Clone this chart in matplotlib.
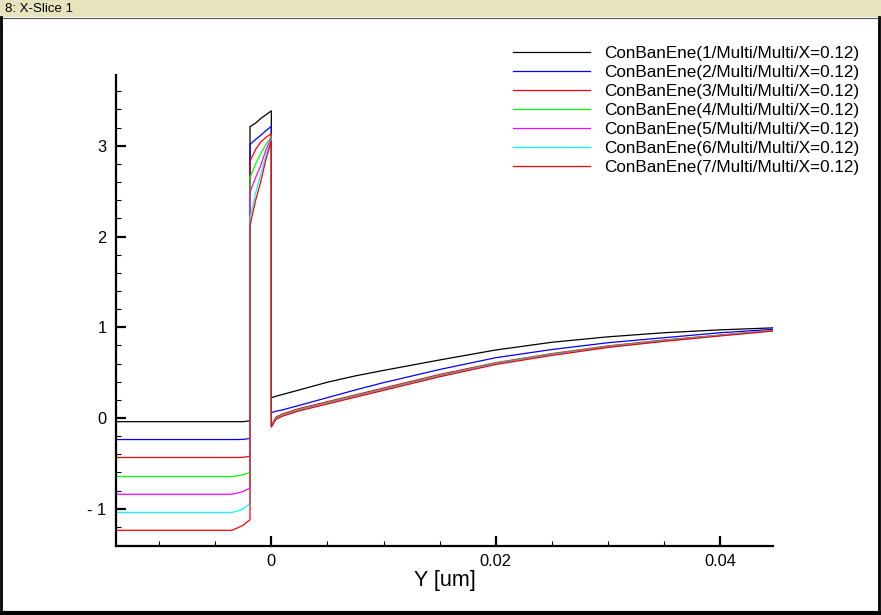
import matplotlib
matplotlib.use("Agg")

import matplotlib.pyplot as plt
from matplotlib.patches import Rectangle
from matplotlib.lines import Line2D
from matplotlib.ticker import MultipleLocator, FixedLocator, FixedFormatter

# substrate / oxide / silicon x positions (um)
x_sub = [-0.014, -0.0035, -0.003, -0.0025, -0.0019]
x_ox = [-0.0019, -0.0014, -0.00095, -0.0005, 0.0]
x_si = [0.0, 0.0004, 0.001, 0.0025, 0.005, 0.0075, 0.01, 0.015, 0.02,
        0.025, 0.03, 0.035, 0.04, 0.045]

names = ["ConBanEne(%d/Multi/Multi/X=0.12)" % i for i in range(1, 8)]
colors = ["black", "blue", "red", "#00ff00", "magenta", "cyan", "red"]

sub_1 = [-0.04, -0.04, -0.04, -0.04, -0.03]
sub_2 = [-0.237, -0.237, -0.237, -0.235, -0.225]
sub_3 = [-0.435, -0.435, -0.435, -0.433, -0.42]
sub_4 = [-0.644, -0.644, -0.635, -0.625, -0.60]
sub_5 = [-0.84, -0.84, -0.825, -0.81, -0.77]
sub_6 = [-1.04, -1.04, -1.025, -1.0, -0.94]
sub_7 = [-1.237, -1.237, -1.21, -1.18, -1.12]

ox_1 = [3.21, 3.25, 3.30, 3.34, 3.385]
ox_2 = [3.015, 3.07, 3.115, 3.165, 3.215]
ox_3 = [2.83, 2.96, 3.04, 3.09, 3.135]
ox_4 = [2.65, 2.80, 2.91, 3.01, 3.10]
ox_5 = [2.49, 2.65, 2.78, 2.95, 3.09]
ox_6 = [2.20, 2.48, 2.68, 2.89, 3.07]
ox_7 = [2.12, 2.40, 2.60, 2.84, 3.06]

si_1 = [0.224, 0.24, 0.26, 0.31, 0.395, 0.465, 0.525, 0.64, 0.75, 0.835, 0.895, 0.94, 0.972, 0.995]
si_2 = [0.06, 0.075, 0.09, 0.14, 0.225, 0.31, 0.39, 0.535, 0.665, 0.755, 0.83, 0.885, 0.94, 0.98]
si_3 = [-0.08, 0.01, 0.045, 0.105, 0.18, 0.255, 0.33, 0.48, 0.61, 0.71, 0.795, 0.86, 0.915, 0.97]
si_4 = [-0.085, 0.0, 0.035, 0.095, 0.17, 0.245, 0.32, 0.47, 0.605, 0.705, 0.79, 0.855, 0.912, 0.967]
si_5 = [-0.09, -0.005, 0.03, 0.09, 0.165, 0.24, 0.315, 0.465, 0.60, 0.70, 0.785, 0.85, 0.91, 0.965]
si_6 = [-0.095, -0.01, 0.025, 0.085, 0.16, 0.235, 0.31, 0.46, 0.595, 0.695, 0.78, 0.848, 0.908, 0.965]
si_7 = [-0.10, -0.015, 0.02, 0.08, 0.155, 0.23, 0.305, 0.455, 0.59, 0.69, 0.778, 0.845, 0.905, 0.962]

subs = [sub_1, sub_2, sub_3, sub_4, sub_5, sub_6, sub_7]
oxs = [ox_1, ox_2, ox_3, ox_4, ox_5, ox_6, ox_7]
sis = [si_1, si_2, si_3, si_4, si_5, si_6, si_7]

y_ticks = [-1, 0, 1, 2, 3]
y_ticklabels = ["- 1", "0", "1", "2", "3"]
x_ticks = [0, 0.02, 0.04]
x_ticklabels = ["0", "0.02", "0.04"]

plt.rcParams["font.family"] = ["Liberation Sans", "DejaVu Sans"]

W, H = 881, 615
fig = plt.figure(figsize=(W / 100, H / 100), dpi=100)
fig.patch.set_facecolor("white")

# window frame and title bar
fig.patches.append(Rectangle((0, 1 - 17 / H), 1, 17 / H, transform=fig.transFigure,
                             facecolor="#e6e4bc", edgecolor="none", zorder=0))
fig.add_artist(Line2D([0, 1], [1 - 17.5 / H, 1 - 17.5 / H], transform=fig.transFigure,
                      color="#555555", lw=0.8))
fig.add_artist(Line2D([1 / W, 1 / W], [0, 1 - 17 / H], transform=fig.transFigure,
                      color="black", lw=2))
fig.add_artist(Line2D([879 / W, 879 / W], [0, 1 - 17 / H], transform=fig.transFigure,
                      color="black", lw=2))
fig.add_artist(Line2D([0, 1], [2 / H, 2 / H], transform=fig.transFigure,
                      color="black", lw=3))
fig.text(5 / W, 1 - 9 / H, "8: X-Slice 1", fontsize=9.5, va="center", ha="left")

ax = fig.add_axes([116 / W, 1 - 546 / H, (773 - 116) / W, (546 - 75) / H])

for i in range(7):
    xs = x_sub + x_ox + x_si
    ys = subs[i] + oxs[i] + sis[i]
    ax.plot(xs, ys, color=colors[i], lw=0.9, label=names[i])

ax.set_xlim(-0.01384, 0.0447)
ax.set_ylim(-1.41, 3.78)

for s in ["top", "right"]:
    ax.spines[s].set_visible(False)
for s in ["left", "bottom"]:
    ax.spines[s].set_linewidth(1.6)

ax.xaxis.set_major_locator(FixedLocator(x_ticks))
ax.xaxis.set_major_formatter(FixedFormatter(x_ticklabels))
ax.xaxis.set_minor_locator(MultipleLocator(0.005))
ax.yaxis.set_major_locator(FixedLocator(y_ticks))
ax.yaxis.set_major_formatter(FixedFormatter(y_ticklabels))
ax.yaxis.set_minor_locator(MultipleLocator(0.2))

ax.tick_params(which="major", direction="in", length=7.5, width=1.6, labelsize=11.8)
ax.tick_params(which="minor", direction="in", length=3.8, width=0.8)
ax.tick_params(axis="x", which="major", pad=5.5)
ax.tick_params(axis="y", which="major", pad=7)

ax.set_xlabel("Y [um]", fontsize=15.5, labelpad=1)

ax.legend(loc="upper left", bbox_to_anchor=(513 / W, 1 - 46 / H),
          bbox_transform=fig.transFigure, frameon=False, fontsize=12.3,
          borderpad=0, borderaxespad=0, handlelength=4.5, handletextpad=0.85,
          labelspacing=0.235)

plt.savefig("out.png", dpi=100)
plt.close()
